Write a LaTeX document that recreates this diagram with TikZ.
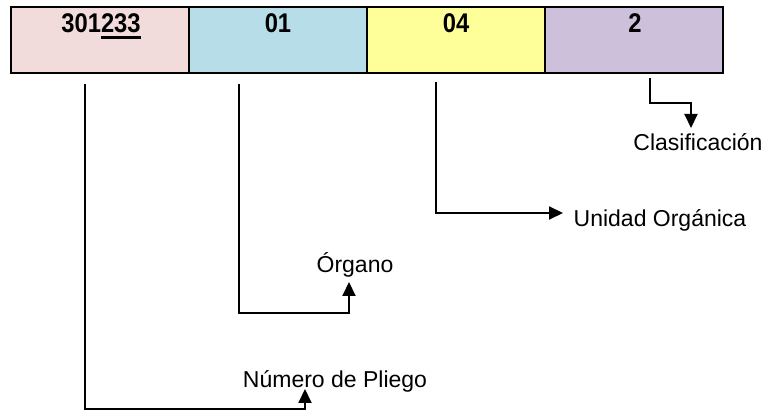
\documentclass[tikz,border=0pt]{standalone}
\usepackage{fontspec}
\setmainfont{Liberation Sans}
\newfontfamily\cellfont[FakeStretch=0.88]{Liberation Sans}
\usetikzlibrary{arrows.meta}
\definecolor{pliegoclr}{HTML}{F2DCDB}
\definecolor{organoclr}{HTML}{B7DEE8}
\definecolor{unidadclr}{HTML}{FFFF99}
\definecolor{clasifclr}{HTML}{CCC0DA}
\newsavebox{\ulbox}
\newcommand{\thickul}[1]{\sbox{\ulbox}{#1}%
  \rlap{\rule[-6pt]{\wd\ulbox}{2.5pt}}\usebox{\ulbox}}
\newcommand{\celly}{40}
\newcommand{\digity}{33}

\begin{document}
\begin{tikzpicture}[x=1pt,y=-1pt,
    cell/.style={draw=black,line width=2pt,minimum width=178pt,
      minimum height=66pt,inner sep=0pt},
    celltext/.style={anchor=base,
      font=\cellfont\bfseries\fontsize{27}{32}\selectfont},
    tag/.style={anchor=base,font=\fontsize{23}{28}\selectfont},
    conn/.style={line width=2pt,-{Triangle[length=14pt,width=13pt]}}]
  \useasboundingbox (0,0) rectangle (771,411);

  % the four fields of the code
  \node[cell,fill=pliegoclr] (pliego) at (100,\celly) {};
  \node[cell,fill=organoclr] (organo) at (278,\celly) {};
  \node[cell,fill=unidadclr] (unidad) at (456,\celly) {};
  \node[cell,fill=clasifclr] (clasif) at (634,\celly) {};

  \node[celltext] (pliegotxt) at (101,\digity) {301\thickul{233}};
  \node[celltext] (organotxt) at (278,\digity) {01};
  \node[celltext] (unidadtxt) at (456,\digity) {04};
  \node[celltext] (clasiftxt) at (635,\digity) {2};

  % meanings
  \node[tag] (clasiflbl) at (698,151) {Clasificación};
  \node[tag] (unidadlbl) at (660,227) {Unidad Orgánica};
  \node[tag] (organolbl) at (355,273) {Órgano};
  \node[tag] (pliegolbl) at (335,388) {Número de Pliego};

  % connectors
  \coordinate (pliegoa) at (85,84);
  \coordinate (pliegob) at (305,409);
  \coordinate (pliegoc) at (305,389);
  \coordinate (organoa) at (239,84);
  \coordinate (organob) at (349,313);
  \coordinate (organoc) at (349,282);
  \coordinate (unidada) at (436,82);
  \coordinate (unidadc) at (563,213);
  \coordinate (clasifa) at (650,78);
  \coordinate (clasifb) at (691,103);
  \coordinate (clasifc) at (691,128);

  \draw[conn] (pliegoa) |- (pliegob) -- (pliegoc);
  \draw[conn] (organoa) |- (organob) -- (organoc);
  \draw[conn] (unidada) |- (unidadc);
  \draw[conn] (clasifa) |- (clasifb) -- (clasifc);
\end{tikzpicture}
\end{document}
